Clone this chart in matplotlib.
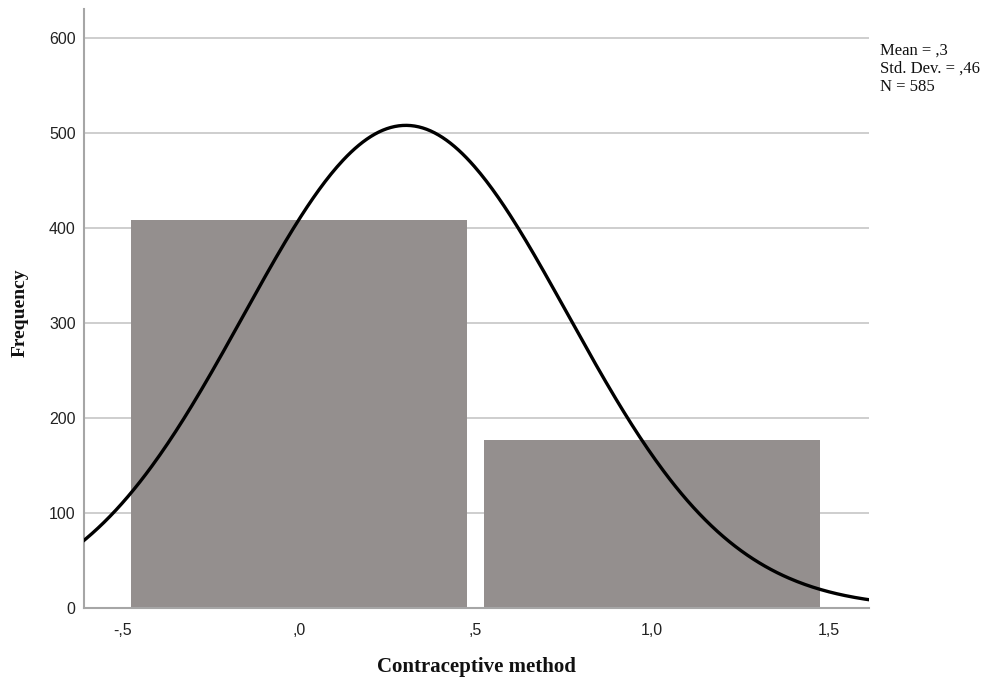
import numpy as np
import matplotlib
matplotlib.use("Agg")
import matplotlib.pyplot as plt

# histogram of a 0/1 variable, SPSS style
values = [0, 1]
counts = [408, 177]
x_ticks = [-0.5, 0.0, 0.5, 1.0, 1.5]
x_tick_labels = ["-,5", ",0", ",5", "1,0", "1,5"]
y_ticks = [0, 100, 200, 300, 400, 500, 600]
stats_lines = ["Mean = ,3", "Std. Dev. = ,46", "N = 585"]

BAR_COLOR = "#948f8e"
GRID_COLOR = "#c6c6c6"
SPINE_COLOR = "#a6a6a6"


def main():
    n = sum(counts)
    vals = np.repeat(values, counts)
    mean = vals.mean()
    sd = vals.std(ddof=1)

    fig = plt.figure(figsize=(9.9, 6.81), dpi=100)
    ax = fig.add_axes([84 / 990, 73 / 681, 785 / 990, 599 / 681])

    ax.set_axisbelow(True)
    ax.yaxis.grid(True, color=GRID_COLOR, linewidth=1.2)
    ax.bar(values, counts, width=0.95, color=BAR_COLOR, edgecolor="none", zorder=2)

    # fitted normal curve, scaled to counts (bin width 1)
    xs = np.linspace(-0.62, 1.63, 400)
    ys = n * 1.0 / (sd * np.sqrt(2 * np.pi)) * np.exp(-0.5 * ((xs - mean) / sd) ** 2)
    ax.plot(xs, ys, color="black", linewidth=2.4, zorder=3, solid_capstyle="butt")

    ax.set_xlim(-0.609, 1.614)
    ax.set_ylim(0, 630)
    ax.set_xticks(x_ticks)
    ax.set_xticklabels(x_tick_labels)
    ax.set_yticks(y_ticks)
    ax.tick_params(length=0, labelsize=11.5, colors="#222222")
    ax.tick_params(axis="x", pad=11)
    ax.tick_params(axis="y", pad=6)
    for lab in ax.get_xticklabels() + ax.get_yticklabels():
        lab.set_family("Liberation Sans")

    for side in ["top", "right"]:
        ax.spines[side].set_visible(False)
    for side in ["left", "bottom"]:
        ax.spines[side].set_color(SPINE_COLOR)
        ax.spines[side].set_linewidth(1.5)

    fig.text(476.5 / 990, 1 - 672 / 681, "Contraceptive method",
             family="Liberation Serif", fontweight="bold", fontsize=15,
             ha="center", va="baseline", color="#111111")
    fig.text(20 / 990, 1 - 313 / 681, "Frequency",
             family="Liberation Serif", fontweight="bold", fontsize=14,
             ha="center", va="center", rotation=90, color="#111111")

    for i, line in enumerate(stats_lines):
        fig.text(880 / 990, 1 - (55 + 18 * i) / 681, line,
                 family="Liberation Serif", fontsize=12, ha="left",
                 va="baseline", color="#111111")

    fig.savefig("out.png", dpi=100)
    plt.close(fig)


if __name__ == "__main__":
    main()
